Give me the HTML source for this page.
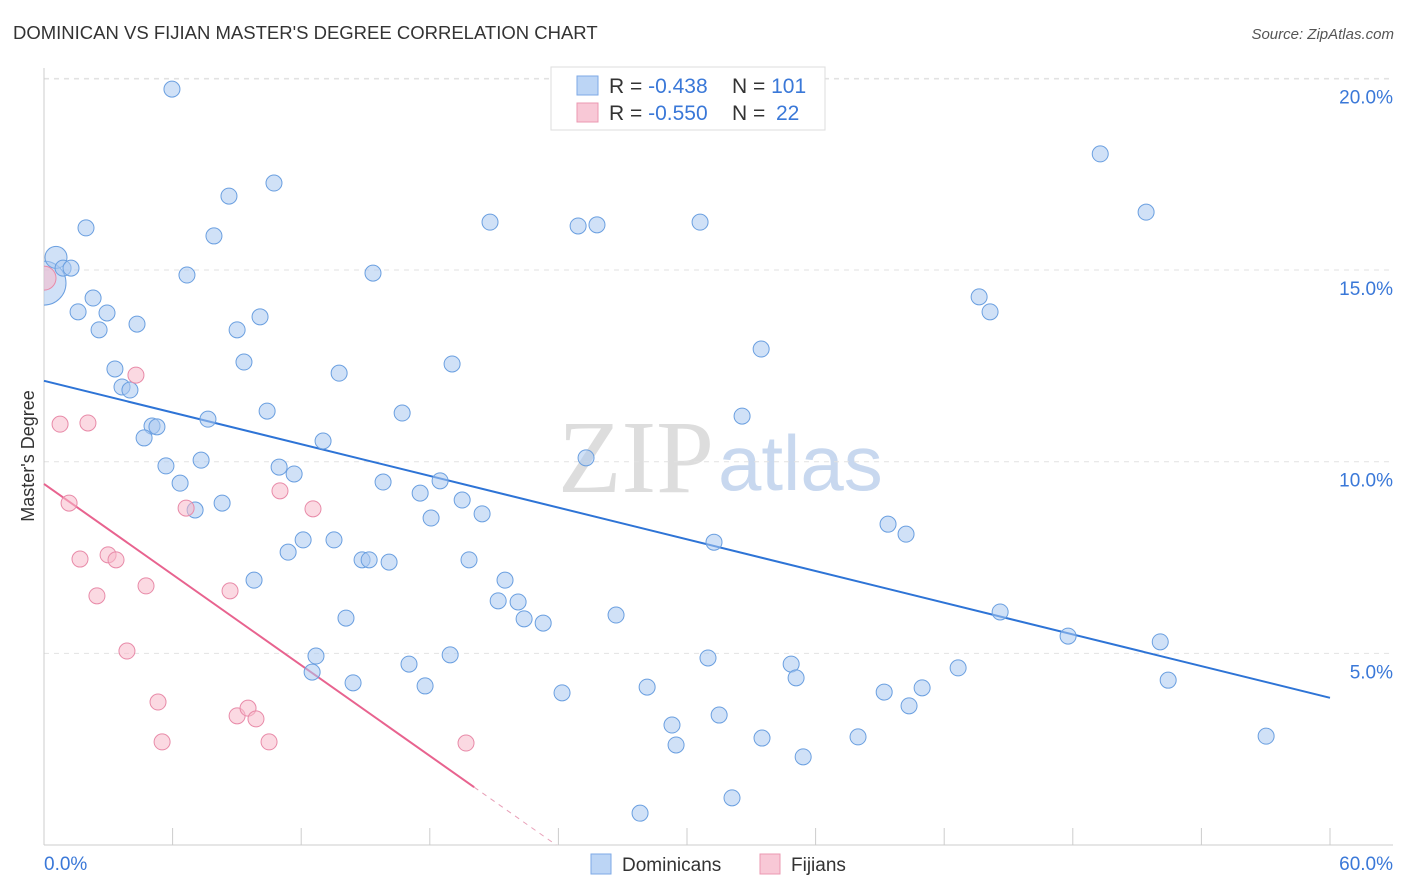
<!DOCTYPE html>
<html><head><meta charset="utf-8">
<style>
body{margin:0;background:#fff;font-family:"Liberation Sans",sans-serif;}
svg{display:block}
</style></head>
<body>
<svg id="chart" width="1406" height="892">
<defs><clipPath id="plotclip"><rect x="44" y="60" width="1360" height="785"/></clipPath></defs>
<text x="13" y="39" font-size="18.5" fill="#333">DOMINICAN VS FIJIAN MASTER'S DEGREE CORRELATION CHART</text>
<text x="1394" y="39" font-size="15" fill="#555" font-style="italic" text-anchor="end">Source: ZipAtlas.com</text>
<text x="714" y="492" font-size="104" fill="#ddd" font-family="Liberation Serif" text-anchor="end">ZIP</text>
<text x="718" y="490" font-size="78" fill="#c8d8ef">atlas</text>
<g id="grid"></g>
<g id="axes"></g>
<text transform="translate(34,456) rotate(-90)" font-size="18" fill="#333" text-anchor="middle">Master's Degree</text>
<g id="lines"></g>
<g id="points" clip-path="url(#plotclip)"></g>
<g>
<rect x="551" y="67" width="274" height="63" fill="#fff" stroke="#ddd"/>
<rect x="577" y="76" width="21" height="19" fill="#bcd5f5" stroke="#7ea9e6"/>
<rect x="577" y="103" width="21" height="19" fill="#f8c8d6" stroke="#eb98b2"/>
<text x="609" y="93" font-size="21" fill="#333">R = <tspan fill="#3a78d8">-0.438</tspan><tspan x="732">N = </tspan><tspan fill="#3a78d8">101</tspan></text>
<text x="609" y="120" font-size="21" fill="#333">R = <tspan fill="#3a78d8">-0.550</tspan><tspan x="732">N = </tspan><tspan fill="#3a78d8" x="776">22</tspan></text>
</g>
<g>
<rect x="591" y="854" width="20" height="20" fill="#bcd5f5" stroke="#7ea9e6"/>
<text x="622" y="871" font-size="19" fill="#333">Dominicans</text>
<rect x="760" y="854" width="20" height="20" fill="#f8c8d6" stroke="#eb98b2"/>
<text x="791" y="871" font-size="19" fill="#333">Fijians</text>
</g>
</svg>
<script>
const yTicks=[5,10,15,20];
const yTickLabels=["5.0%","10.0%","15.0%","20.0%"];
const xTickCount=10;
const xEndLabels=["0.0%","60.0%"];
const domX=[0.00,1.96,8.63,10.73,7.93,6.67,0.56,0.89,1.26,1.59,2.94,2.57,4.34,10.08,9.01,9.33,3.31,3.64,4.01,5.04,5.27,4.67,7.65,10.41,5.69,7.33,6.35,7.05,8.31,10.97,11.67,13.02,13.77,15.35,16.71,19.04,20.81,24.92,25.80,30.61,33.46,32.57,25.29,15.82,17.55,18.48,19.51,20.44,18.06,12.09,11.39,13.53,14.84,15.17,16.10,19.83,21.51,21.19,22.12,22.40,23.29,26.69,14.09,9.80,12.69,12.51,14.42,17.03,17.78,18.95,24.17,28.14,29.30,29.49,30.98,31.50,33.50,34.86,35.09,35.42,32.10,27.81,31.26,37.98,39.20,39.38,40.22,40.36,40.97,42.65,43.63,44.14,44.61,47.78,49.28,51.42,52.08,52.45,57.02,5.97,2.29];
const domY=[14.66,16.10,16.93,17.27,15.89,14.87,15.33,15.05,15.05,13.91,13.88,13.44,13.59,13.78,13.44,12.60,12.42,11.95,11.87,10.93,10.91,10.62,11.11,11.32,9.89,10.04,9.44,8.74,8.92,9.86,9.68,10.54,12.31,14.92,11.27,12.55,16.25,16.15,16.18,16.25,12.94,11.19,10.10,9.47,9.18,9.50,9.00,8.64,8.53,7.96,7.64,7.96,7.44,7.44,7.38,7.44,6.91,6.37,6.34,5.90,5.79,6.00,5.92,6.91,4.93,4.51,4.23,4.72,4.15,4.96,3.97,4.12,3.13,2.61,4.88,3.39,2.79,4.72,4.36,2.30,1.23,0.83,7.90,2.82,3.99,8.37,8.11,3.63,4.10,4.62,14.30,13.91,6.08,5.45,18.03,16.51,5.30,4.30,2.84,19.72,14.27];
const domBig=[0];
const domMid=[6];
const fijX=[0.00,0.75,2.05,1.17,1.68,2.99,3.36,2.47,4.76,4.29,3.87,5.32,5.51,6.63,8.68,9.01,9.52,9.89,10.50,11.01,12.55,19.69];
const fijY=[14.79,10.98,11.01,8.92,7.46,7.57,7.44,6.50,6.76,12.26,5.06,3.73,2.69,8.79,6.63,3.37,3.57,3.29,2.69,9.24,8.77,2.66];
const fijBig=[0];
const domTrend=[12.11,3.84];
const fijTrend=[9.42,-14.23];
const fijSolidEnd=20.07;

const X0=44,X1=1330,Y0=845,PXY=38.33;
const sx=v=>X0+(X1-X0)*v/60;
const sy=v=>Y0-v*PXY;
const NS="http://www.w3.org/2000/svg";
function mk(tag,attrs,parent){const e=document.createElementNS(NS,tag);for(const k in attrs)e.setAttribute(k,attrs[k]);parent.appendChild(e);return e;}
const grid=document.getElementById('grid'),axes=document.getElementById('axes'),lines=document.getElementById('lines'),pts=document.getElementById('points');
mk('line',{x1:44,x2:1393,y1:79,y2:79,stroke:'#e2e2e2','stroke-dasharray':'5,5'},grid);
yTicks.forEach((t,i)=>{
  const l=mk('line',{x1:44,x2:1393,y1:sy(t),y2:sy(t),stroke:'#e2e2e2','stroke-dasharray':'5,5'},grid);
  
  
  const tx=mk('text',{x:1393,y:sy(t)+25,'font-size':19,fill:'#3a78d8','text-anchor':'end'},grid);
  tx.textContent=yTickLabels[i];
  
  
});
const ya=mk('line',{x1:44,x2:44,y1:68,y2:845,stroke:'#ccc'},axes);


const xa=mk('line',{x1:44,x2:1393,y1:845,y2:845,stroke:'#ccc'},axes);


for(let i=1;i<=xTickCount;i++){
  const x=sx(60*i/xTickCount);
  const t=mk('line',{x1:x,x2:x,y1:828,y2:845,stroke:'#ccc'},axes);
  
  
}
const xl0=mk('text',{x:44,y:870,'font-size':19,fill:'#3a78d8'},axes);
xl0.textContent=xEndLabels[0];


const xl1=mk('text',{x:1393,y:870,'font-size':19,fill:'#3a78d8','text-anchor':'end'},axes);
xl1.textContent=xEndLabels[1];



function drawPts(X,Y,big,mid,bigR,fill,stroke,name){
  X.forEach((v,i)=>{
    const r=big.includes(i)?bigR:(mid.includes(i)?11:8);
    const c=mk('circle',{cx:sx(v),cy:sy(Y[i]),r:r,fill:fill,'fill-opacity':0.55,stroke:stroke,'stroke-width':1},pts);
    
    
  });
}
drawPts(domX,domY,domBig,domMid,22,'#a9c8f0','#6a9fe0','dominican-point');
drawPts(fijX,fijY,fijBig,[],12,'#f7b9cb','#e88aa8','fijian-point');

const bl=mk('line',{x1:sx(0),y1:sy(domTrend[0]),x2:sx(60),y2:sy(domTrend[1]),stroke:'#2e74d6','stroke-width':2},lines);


const fy=v=>fijTrend[0]+(fijTrend[1]-fijTrend[0])*v/60;
const zeroX=-fijTrend[0]/((fijTrend[1]-fijTrend[0])/60);
const pl=mk('line',{x1:sx(0),y1:sy(fijTrend[0]),x2:sx(fijSolidEnd),y2:sy(fy(fijSolidEnd)),stroke:'#e8638f','stroke-width':2},lines);


const pd=mk('line',{x1:sx(fijSolidEnd),y1:sy(fy(fijSolidEnd)),x2:sx(zeroX),y2:sy(0),stroke:'#e8a0b8','stroke-width':1,'stroke-dasharray':'5,5'},lines);


</script>
</body></html>
